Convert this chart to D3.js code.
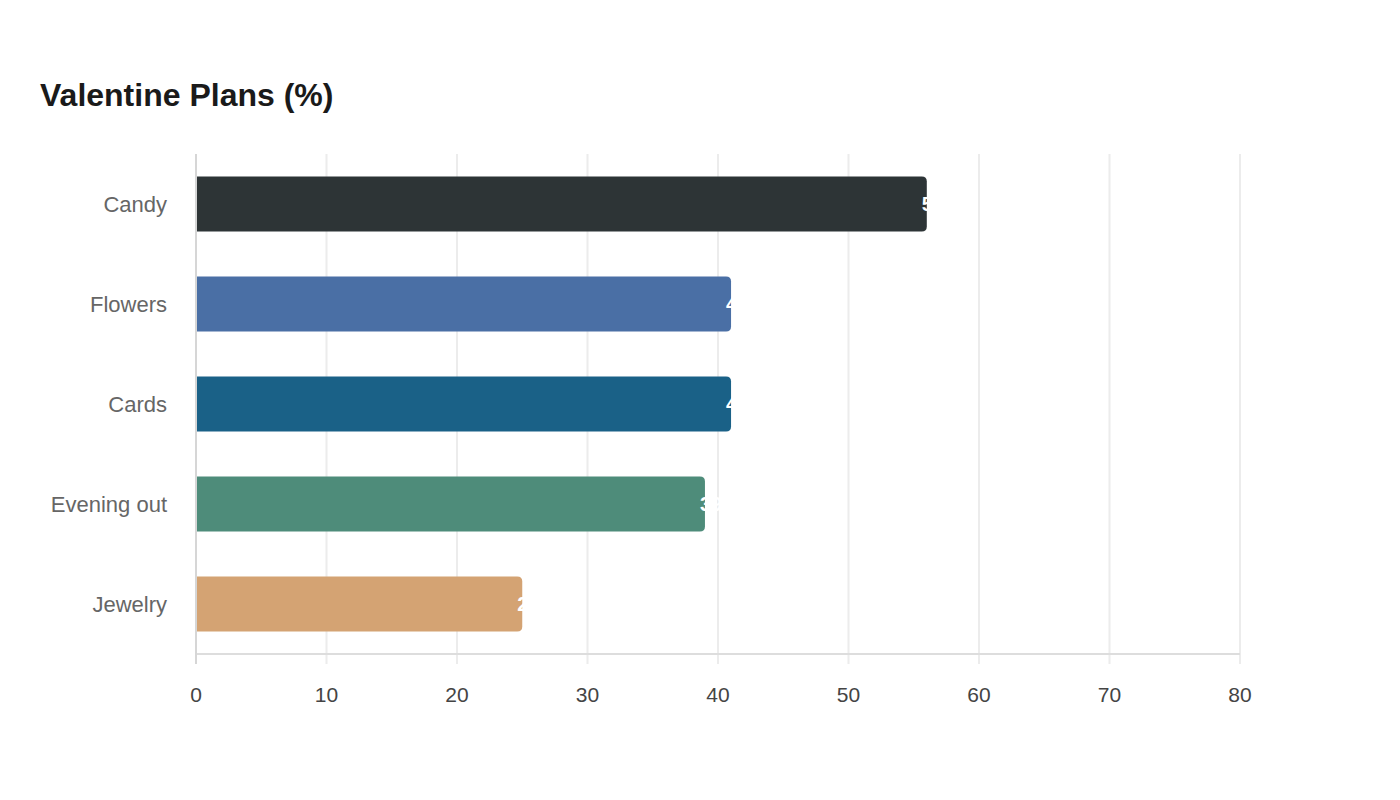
<!DOCTYPE html>
<html>
<head>
<meta charset="utf-8">
<script src="https://cdn.jsdelivr.net/npm/d3@7"></script>
<style>
  body { margin: 0; background: #fff; font-family: "Liberation Sans", Arial, sans-serif; }
</style>
</head>
<body>
<div id="chart"></div>
<script>
const categories = ["Candy", "Flowers", "Cards", "Evening out", "Jewelry"];
const values = [56, 41, 41, 39, 25];
const colors = ["#2d3436", "#4a6fa5", "#1a6187", "#4e8c7a", "#d4a373"];
const xTicks = [0, 10, 20, 30, 40, 50, 60, 70, 80];

function drawChart() {
    const width = 1400, height = 800;
    const margin = {top: 154, left: 196, right: 160, bottom: 146};
    const svg = d3.select("#chart").append("svg")
        .attr("width", width)
        .attr("height", height);

    svg.append("text")
        .attr("x", 40)
        .attr("y", 106)
        .attr("font-size", 32)
        .attr("font-weight", "bold")
        .attr("fill", "#1a1a1a")
        .text("Valentine Plans (%)");

    const x = d3.scaleLinear().domain([0, 80]).range([margin.left, width - margin.right]);
    const y = d3.scaleBand().domain(categories)
        .range([margin.top, height - margin.bottom])
        .paddingInner(0.45).paddingOuter(0.225);

    const bottom = height - margin.bottom;

    // grid
    svg.append("g").selectAll("line")
        .data(xTicks)
        .enter().append("line")
        .attr("x1", d => x(d)).attr("x2", d => x(d))
        .attr("y1", margin.top).attr("y2", bottom + 10)
        .attr("stroke", "#ececec")
        .attr("stroke-width", 2);

    // axis lines
    svg.append("line")
        .attr("x1", x(0)).attr("x2", x(80))
        .attr("y1", bottom).attr("y2", bottom)
        .attr("stroke", "#dddddd").attr("stroke-width", 2);
    svg.append("line")
        .attr("x1", x(0)).attr("x2", x(0))
        .attr("y1", margin.top).attr("y2", bottom + 10)
        .attr("stroke", "#d6d6d6").attr("stroke-width", 2);

    // x tick labels
    svg.append("g").selectAll("text")
        .data(xTicks)
        .enter().append("text")
        .attr("x", d => x(d))
        .attr("y", bottom + 48)
        .attr("text-anchor", "middle")
        .attr("font-size", 21)
        .attr("fill", "#444")
        .text(d => d);

    // category labels
    svg.append("g").selectAll("text")
        .data(categories)
        .enter().append("text")
        .attr("x", x(0) - 29)
        .attr("y", d => y(d) + y.bandwidth() / 2)
        .attr("dy", "0.35em")
        .attr("text-anchor", "end")
        .attr("font-size", 22)
        .attr("fill", "#666")
        .text(d => d);

    // bars with rounded right end
    const r = 5;
    svg.append("g").selectAll("path")
        .data(values)
        .enter().append("path")
        .attr("fill", (d, i) => colors[i])
        .attr("d", (d, i) => {
            const x0 = x(0) + 1, x1 = x(d), y0 = y(categories[i]), h = y.bandwidth();
            return `M${x0},${y0}H${x1 - r}Q${x1},${y0} ${x1},${y0 + r}V${y0 + h - r}Q${x1},${y0 + h} ${x1 - r},${y0 + h}H${x0}Z`;
        });

    // value labels (white, partly invisible past bar end)
    svg.append("g").selectAll("text")
        .data(values)
        .enter().append("text")
        .attr("x", d => x(d) - 5)
        .attr("y", (d, i) => y(categories[i]) + y.bandwidth() / 2)
        .attr("dy", "0.35em")
        .attr("font-size", 20)
        .attr("font-weight", "bold")
        .attr("fill", "#fff")
        .text(d => d);
}

document.addEventListener('DOMContentLoaded', () => {
    drawChart();
});
</script>
</body>
</html>
